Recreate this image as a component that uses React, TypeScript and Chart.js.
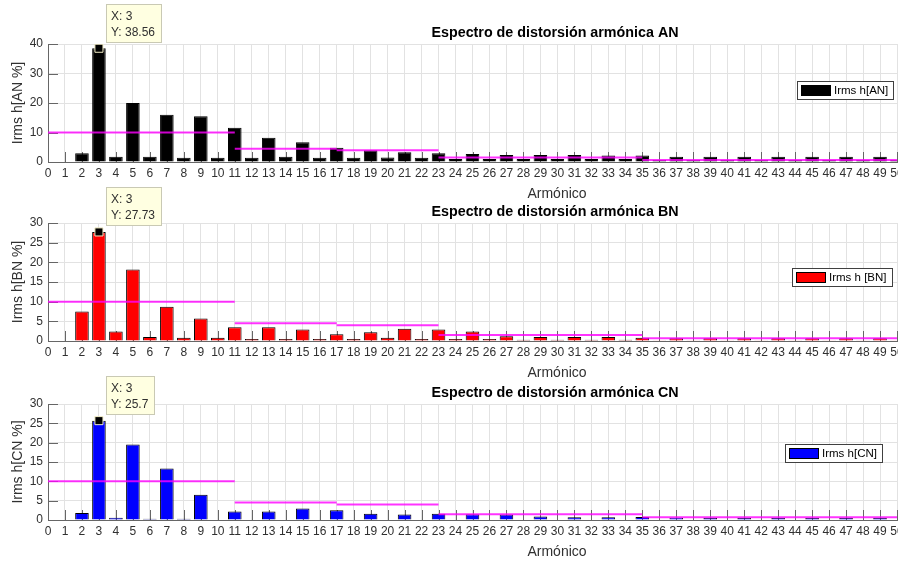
import { useEffect, useRef } from "react";
import { Chart, registerables } from "chart.js";

Chart.register(...registerables);

// Harmonic orders shown on the x axis
const harmonics = [
  1, 2, 3, 4, 5, 6, 7, 8, 9, 10, 11, 12, 13, 14, 15, 16, 17, 18, 19, 20, 21, 22, 23, 24, 25,
  26, 27, 28, 29, 30, 31, 32, 33, 34, 35, 36, 37, 38, 39, 40, 41, 42, 43, 44, 45, 46, 47, 48, 49, 50,
];

// Harmonic current, % of fundamental, phase A-N
const valuesAN = [
  0, 3.0, 38.56, 1.8, 20.0, 1.8, 16.0, 1.4, 15.5, 1.4, 11.6, 1.4, 8.2, 1.8, 6.7, 1.4, 4.8, 1.4, 4.0, 1.5,
  3.3, 1.4, 3.0, 1.0, 2.7, 1.0, 2.4, 1.0, 2.4, 1.0, 2.4, 1.0, 2.2, 1.0, 2.2, 0.7, 1.8, 0.7, 1.8, 0.7,
  1.8, 0.7, 1.8, 0.7, 1.8, 0.7, 1.8, 0.7, 1.8, 0.7,
];

// Harmonic current, % of fundamental, phase B-N
const valuesBN = [
  0, 7.5, 27.73, 2.4, 18.2, 1.0, 8.7, 0.8, 5.7, 0.8, 3.5, 0.5, 3.5, 0.5, 2.9, 0.5, 1.7, 0.5, 2.2, 0.8,
  3.1, 0.5, 2.9, 0.5, 2.4, 0.5, 1.2, 0.3, 1.0, 0.3, 1.0, 0.3, 1.0, 0.3, 0.8, 0.2, 0.7, 0.2, 0.7, 0.2,
  0.7, 0.2, 0.7, 0.2, 0.7, 0.2, 0.7, 0.2, 0.7, 0.2,
];

// Harmonic current, % of fundamental, phase C-N
const valuesCN = [
  0, 1.8, 25.7, 0.6, 19.5, 0.3, 13.3, 0.3, 6.5, 0, 2.2, 0, 2.2, 0, 3.0, 0, 2.5, 0, 1.6, 0,
  1.4, 0, 1.6, 0, 1.5, 0, 1.4, 0, 0.9, 0, 0.7, 0, 0.7, 0, 0.8, 0, 0.6, 0, 0.5, 0,
  0.5, 0, 0.5, 0, 0.5, 0, 0.5, 0, 0.5, 0,
];

// Individual harmonic limits (IEEE 519) by harmonic range
const limitStarts = [0, 11, 17, 23, 35];
const limitEnds = [11, 17, 23, 35, 50];
const limitValues = [10, 4.5, 4.0, 1.5, 0.7];

// Harmonic order marked with a data tip in each panel
const tipHarmonic = 3;

const FONT = "'Liberation Sans', Arial, Helvetica, sans-serif";
const CANVAS_W = 930;
const CANVAS_H = 200;
const AREA_RIGHT = 897;
const AXES_CENTER_X = 555;
const AXIS_COLOR = "#666666";
const GRID_COLOR = "#e2e2e2";
const TEXT_COLOR = "#303030";

type PanelCfg = {
  top: number;
  padTop: number;
  areaBottom: number;
  yMax: number;
  values: number[];
  color: string;
  title: string;
  yLabel: string;
  legendLabel: string;
  legendRight: number;
  legendCenterY: number;
};

const panels: PanelCfg[] = [
  {
    top: 0,
    padTop: 44,
    areaBottom: 162,
    yMax: 40,
    values: valuesAN,
    color: "#000000",
    title: "Espectro de distorsión armónica AN",
    yLabel: "Irms h[AN %]",
    legendLabel: "Irms h[AN]",
    legendRight: 893,
    legendCenterY: 90,
  },
  {
    top: 180,
    padTop: 43,
    areaBottom: 161,
    yMax: 30,
    values: valuesBN,
    color: "#ff0000",
    title: "Espectro de distorsión armónica BN",
    yLabel: "Irms h[BN %]",
    legendLabel: "Irms h [BN]",
    legendRight: 892,
    legendCenterY: 96.5,
  },
  {
    top: 360,
    padTop: 44,
    areaBottom: 160,
    yMax: 30,
    values: valuesCN,
    color: "#0000ff",
    title: "Espectro de distorsión armónica CN",
    yLabel: "Irms h[CN %]",
    legendLabel: "Irms h[CN]",
    legendRight: 882,
    legendCenterY: 93,
  },
];

function limitSeries() {
  const pts: { x: number; y: number | null }[] = [];
  limitStarts.forEach((s, i) => {
    if (i > 0) pts.push({ x: s, y: null });
    pts.push({ x: s, y: limitValues[i] }, { x: limitEnds[i], y: limitValues[i] });
  });
  return pts;
}

function makeDecor(cfg: PanelCfg) {
  return {
    id: "panelDecor",
    beforeDatasetsDraw(chart: any) {
      // inward tick marks on the bottom and left axes
      const { ctx, chartArea, scales } = chart;
      const x = scales.x;
      const y = scales.y;
      ctx.save();
      ctx.strokeStyle = AXIS_COLOR;
      ctx.lineWidth = 1;
      ctx.beginPath();
      for (const t of x.ticks) {
        const px = Math.round(x.getPixelForValue(t.value)) + 0.5;
        ctx.moveTo(px, chartArea.bottom);
        ctx.lineTo(px, chartArea.bottom - 10);
      }
      for (const t of y.ticks) {
        const py = Math.round(y.getPixelForValue(t.value)) + 0.5;
        ctx.moveTo(chartArea.left, py);
        ctx.lineTo(chartArea.left + 10, py);
      }
      ctx.stroke();
      ctx.restore();
    },
    afterDraw(chart: any) {
      const { ctx, chartArea, scales } = chart;
      const x = scales.x;
      const y = scales.y;
      ctx.save();

      // title
      ctx.fillStyle = "#000";
      ctx.font = `bold 14.3px ${FONT}`;
      ctx.textAlign = "center";
      ctx.textBaseline = "alphabetic";
      ctx.fillText(cfg.title, AXES_CENTER_X, chartArea.top - 7.5);

      // x axis label
      ctx.fillStyle = TEXT_COLOR;
      ctx.font = `14px ${FONT}`;
      ctx.fillText("Armónico", AXES_CENTER_X + 2, chartArea.bottom + 36);

      // y axis label
      ctx.save();
      ctx.translate(18, (chartArea.top + chartArea.bottom) / 2);
      ctx.rotate(-Math.PI / 2);
      ctx.textBaseline = "middle";
      ctx.fillText(cfg.yLabel, 0, 0);
      ctx.restore();

      // legend
      ctx.font = `11.5px ${FONT}`;
      const tw = ctx.measureText(cfg.legendLabel).width;
      const bw = Math.round(4 + 30 + 3 + tw + 5);
      const bh = 18;
      const bx = Math.round(cfg.legendRight - bw);
      const by = Math.round(cfg.legendCenterY - bh / 2);
      ctx.fillStyle = "#ffffff";
      ctx.fillRect(bx, by, bw, bh);
      ctx.strokeStyle = "#404040";
      ctx.lineWidth = 1;
      ctx.strokeRect(bx + 0.5, by + 0.5, bw, bh);
      ctx.fillStyle = cfg.color;
      ctx.fillRect(bx + 4, by + 4, 30, 11);
      ctx.strokeStyle = "#000";
      ctx.strokeRect(bx + 4.5, by + 4.5, 29, 10);
      ctx.fillStyle = "#000";
      ctx.textAlign = "left";
      ctx.textBaseline = "middle";
      ctx.fillText(cfg.legendLabel, bx + 37, by + bh / 2 + 1);

      // data tip box
      const tipValue = cfg.values[tipHarmonic - 1];
      const px = x.getPixelForValue(tipHarmonic);
      const py = y.getPixelForValue(tipValue);
      const line1 = `X: ${tipHarmonic}`;
      const line2 = `Y: ${tipValue}`;
      ctx.font = `12px ${FONT}`;
      const w = Math.round(Math.max(ctx.measureText(line1).width, ctx.measureText(line2).width) + 11);
      const h = 38;
      const lx = Math.round(px + 7);
      const ty = Math.round(py - 6.5 - h);
      ctx.fillStyle = "#ffffe1";
      ctx.fillRect(lx, ty, w, h);
      ctx.strokeStyle = "#c9c9b4";
      ctx.strokeRect(lx + 0.5, ty + 0.5, w, h);
      ctx.fillStyle = TEXT_COLOR;
      ctx.textBaseline = "middle";
      ctx.fillText(line1, lx + 5, ty + 12.5);
      ctx.fillText(line2, lx + 5, ty + 28.5);

      ctx.restore();
    },
  };
}

function Panel({ cfg }: { cfg: PanelCfg }) {
  const ref = useRef<HTMLCanvasElement | null>(null);

  useEffect(() => {
    if (!ref.current) return;
    const barData = harmonics.map((h, i) => ({ x: h, y: cfg.values[i] }));
    const tipData = [{ x: tipHarmonic, y: cfg.values[tipHarmonic - 1] }];

    const chart = new Chart(ref.current, {
      type: "bar",
      data: {
        datasets: [
          {
            type: "scatter",
            data: tipData,
            pointStyle: "rect",
            pointRadius: 5.7,
            backgroundColor: "#000000",
            borderColor: "#f4efc8",
            borderWidth: 1,
            order: 0,
          } as any,
          {
            type: "line",
            data: limitSeries(),
            borderColor: "rgba(255,0,255,0.8)",
            borderWidth: 2,
            pointRadius: 0,
            spanGaps: false,
            fill: false,
            order: 1,
          } as any,
          {
            type: "bar",
            data: barData,
            backgroundColor: cfg.color,
            borderColor: "#000000",
            borderWidth: 1,
            barPercentage: 0.8,
            categoryPercentage: 1,
            order: 2,
          } as any,
        ],
      },
      options: {
        responsive: false,
        animation: false,
        devicePixelRatio: 1,
        layout: {
          padding: { top: cfg.padTop, left: 0, right: CANVAS_W - AREA_RIGHT, bottom: 0 },
        },
        plugins: {
          legend: { display: false },
          tooltip: { enabled: false },
          title: { display: false },
        },
        scales: {
          x: {
            type: "linear",
            min: 0,
            max: 50,
            offset: false,
            grid: { color: GRID_COLOR, drawTicks: false, offset: false },
            border: { display: true, color: AXIS_COLOR, width: 1 },
            ticks: {
              stepSize: 1,
              autoSkip: false,
              maxRotation: 0,
              minRotation: 0,
              padding: 4,
              color: TEXT_COLOR,
              font: { family: FONT, size: 12 },
              callback: (v: any) => String(v),
            },
            afterFit: (scale: any) => {
              scale.height = CANVAS_H - cfg.areaBottom;
            },
          },
          y: {
            type: "linear",
            min: 0,
            max: cfg.yMax,
            grid: { color: GRID_COLOR, drawTicks: false },
            border: { display: true, color: AXIS_COLOR, width: 1 },
            ticks: {
              stepSize: 5,
              padding: 5,
              color: TEXT_COLOR,
              font: { family: FONT, size: 12 },
            },
            afterFit: (scale: any) => {
              scale.width = 48;
            },
          },
        },
      } as any,
      plugins: [makeDecor(cfg)],
    });

    return () => chart.destroy();
  }, [cfg]);

  return (
    <canvas
      ref={ref}
      width={CANVAS_W}
      height={CANVAS_H}
      style={{ position: "absolute", left: 0, top: cfg.top, width: CANVAS_W, height: CANVAS_H }}
    />
  );
}

export default function App() {
  return (
    <div
      style={{
        position: "fixed",
        left: 0,
        top: 0,
        width: 898,
        height: 562,
        overflow: "hidden",
        background: "#ffffff",
      }}
    >
      {panels.map((p) => (
        <Panel key={p.title} cfg={p} />
      ))}
    </div>
  );
}
